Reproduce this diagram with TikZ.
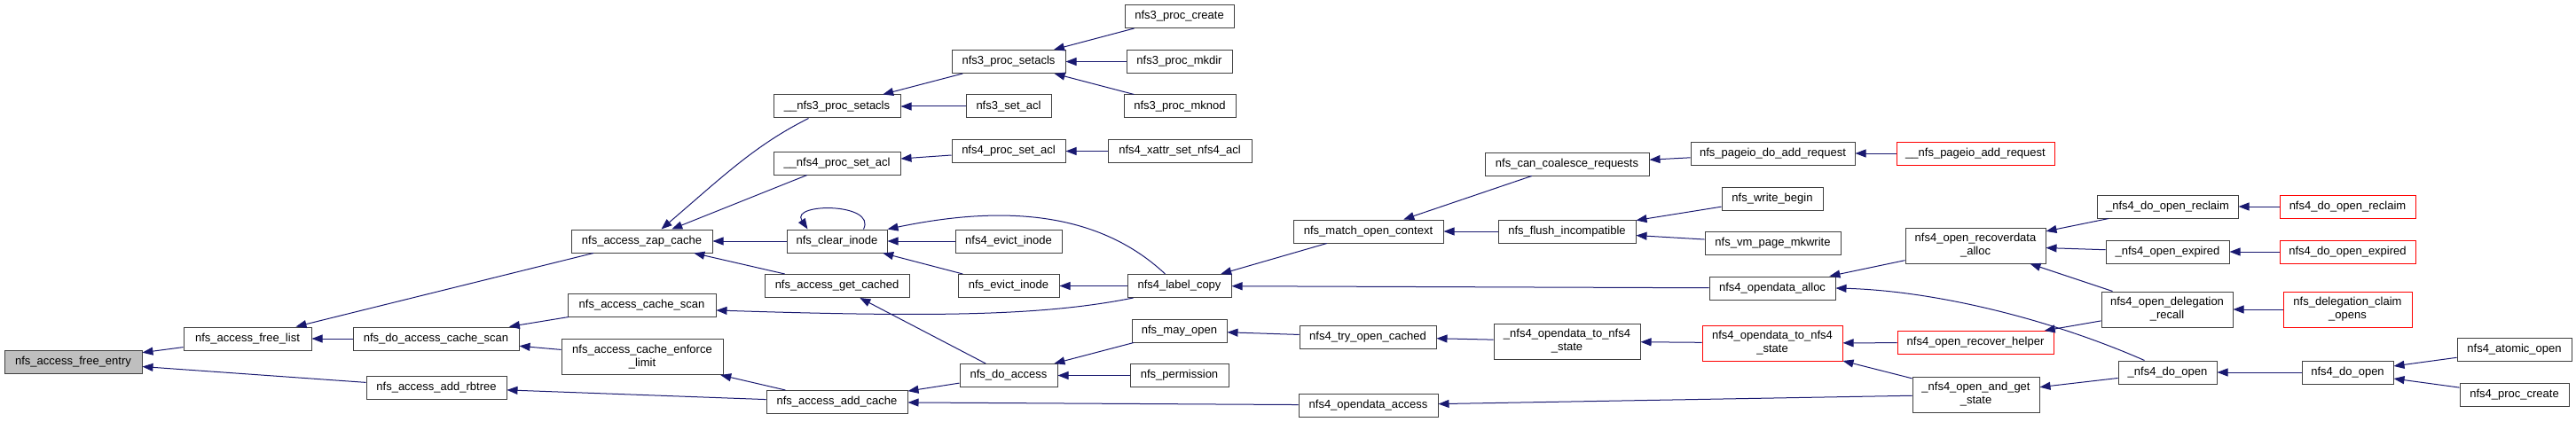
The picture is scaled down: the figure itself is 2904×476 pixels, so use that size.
\documentclass[tikz,border=0pt]{standalone}
\usepackage{fontspec}
\setmainfont{Liberation Sans}
\usetikzlibrary{arrows.meta}
\definecolor{cedge}{HTML}{191970}
\definecolor{cbox}{HTML}{404040}
\definecolor{chl}{HTML}{BFBFBF}
\definecolor{ctrunc}{HTML}{FF0000}
\begin{document}
\begin{tikzpicture}[
    x=1pt, y=1pt,
    fn/.style={draw=cbox, line width=1pt, fill=white, inner sep=0pt, align=center,
               minimum height=26pt, font=\fontsize{13}{15}\selectfont},
    fnhl/.style={fn, fill=chl},
    fntrunc/.style={fn, draw=ctrunc},
    tall/.style={minimum height=40pt},
    call/.style={-{Triangle[length=12pt,width=9pt]}, line width=1pt, draw=cedge},
  ]
  % same canvas as the reference image, one unit is one pixel
  \path[use as bounding box] (0,0) rectangle (2904,-476);
  % == columns, from the callee on the left to the callers on the right
  \node[fnhl, minimum width=155pt] (freeentry) at (82.5,-408) {nfs\_access\_free\_entry};
  \node[fn, minimum width=144pt] (freelist) at (279,-382) {nfs\_access\_free\_list};
  \node[fn, minimum width=187pt] (docachescan) at (491.5,-382) {nfs\_do\_access\_cache\_scan};
  \node[fn, minimum width=158pt] (addrbtree) at (492,-437) {nfs\_access\_add\_rbtree};
  \node[fn, minimum width=159pt] (zapcache) at (723.5,-272) {nfs\_access\_zap\_cache};
  \node[fn, minimum width=167pt] (cachescan) at (723.5,-344) {nfs\_access\_cache\_scan};
  \node[fn, tall, minimum width=182pt] (enforce) at (724,-402.5) {nfs\_access\_cache\_enforce\\\_limit};
  \node[fn, minimum width=143pt] (setaclsiii) at (943.5,-120) {\_\_nfs3\_proc\_setacls};
  \node[fn, minimum width=143pt] (setacliv) at (943.5,-184) {\_\_nfs4\_proc\_set\_acl};
  \node[fn, minimum width=113pt] (clearinode) at (943.5,-272) {nfs\_clear\_inode};
  \node[fn, minimum width=163pt] (getcached) at (943.5,-322.5) {nfs\_access\_get\_cached};
  \node[fn, minimum width=159pt] (addcache) at (943.5,-453.5) {nfs\_access\_add\_cache};
  \node[fn, minimum width=128pt] (procsetacls) at (1137,-69.5) {nfs3\_proc\_setacls};
  \node[fn, minimum width=96pt] (setacl) at (1137,-120) {nfs3\_set\_acl};
  \node[fn, minimum width=128pt] (procsetacl) at (1137,-170.5) {nfs4\_proc\_set\_acl};
  \node[fn, minimum width=120pt] (evictiv) at (1137,-272) {nfs4\_evict\_inode};
  \node[fn, minimum width=114pt] (evict) at (1137,-322.5) {nfs\_evict\_inode};
  \node[fn, minimum width=110pt] (doaccess) at (1137,-423.5) {nfs\_do\_access};
  \node[fn, minimum width=123pt] (create) at (1329.5,-18.5) {nfs3\_proc\_create};
  \node[fn, minimum width=119pt] (mkdir) at (1329.5,-69.5) {nfs3\_proc\_mkdir};
  \node[fn, minimum width=126pt] (mknod) at (1330,-120) {nfs3\_proc\_mknod};
  \node[fn, minimum width=162pt] (xattr) at (1330,-170.5) {nfs4\_xattr\_set\_nfs4\_acl};
  \node[fn, minimum width=117pt] (labelcopy) at (1329.5,-322.5) {nfs4\_label\_copy};
  \node[fn, minimum width=107pt] (mayopen) at (1329.5,-373) {nfs\_may\_open};
  \node[fn, minimum width=111pt] (permission) at (1329.5,-423.5) {nfs\_permission};
  \node[fn, minimum width=169pt] (matchctx) at (1542.5,-261) {nfs\_match\_open\_context};
  \node[fn, minimum width=154pt] (trycached) at (1542,-380) {nfs4\_try\_open\_cached};
  \node[fn, minimum width=157pt] (odaccess) at (1542.5,-457) {nfs4\_opendata\_access};
  \node[fn, minimum width=185pt] (coalesce) at (1766.5,-185) {nfs\_can\_coalesce\_requests};
  \node[fn, minimum width=155pt] (flush) at (1766.5,-261) {nfs\_flush\_incompatible};
  \node[fn, tall, minimum width=165pt] (tostatei) at (1766.5,-385) {\_nfs4\_opendata\_to\_nfs4\\\_state};
  \node[fn, minimum width=185pt] (pageiodo) at (1998.5,-173) {nfs\_pageio\_do\_add\_request};
  \node[fn, minimum width=114pt] (writebegin) at (1998,-224) {nfs\_write\_begin};
  \node[fn, minimum width=153pt] (mkwrite) at (1998.5,-274.5) {nfs\_vm\_page\_mkwrite};
  \node[fn, minimum width=142pt] (odalloc) at (1998,-325) {nfs4\_opendata\_alloc};
  \node[fntrunc, tall, minimum width=158pt] (tostate) at (1998,-387) {nfs4\_opendata\_to\_nfs4\\\_state};
  \node[fntrunc, minimum width=178pt] (pageioadd) at (2227,-173) {\_\_nfs\_pageio\_add\_request};
  \node[fn, tall, minimum width=158pt] (recalloc) at (2227,-277) {nfs4\_open\_recoverdata\\\_alloc};
  \node[fntrunc, minimum width=176pt] (rechelper) at (2227,-386.5) {nfs4\_open\_recover\_helper};
  \node[fn, tall, minimum width=143pt] (openget) at (2227.5,-445) {\_nfs4\_open\_and\_get\\\_state};
  \node[fn, minimum width=159pt] (reclaimi) at (2443.5,-233) {\_nfs4\_do\_open\_reclaim};
  \node[fn, minimum width=139pt] (expiredi) at (2443.5,-284) {\_nfs4\_open\_expired};
  \node[fn, tall, minimum width=148pt] (delegrecall) at (2443,-349) {nfs4\_open\_delegation\\\_recall};
  \node[fn, minimum width=111pt] (doopeni) at (2443.5,-420) {\_nfs4\_do\_open};
  \node[fntrunc, minimum width=153pt] (reclaim) at (2646.5,-233) {nfs4\_do\_open\_reclaim};
  \node[fntrunc, minimum width=153pt] (expired) at (2646.5,-284) {nfs4\_do\_open\_expired};
  \node[fntrunc, tall, minimum width=145pt] (claimopens) at (2646.5,-349) {nfs\_delegation\_claim\\\_opens};
  \node[fn, minimum width=103pt] (doopen) at (2646.5,-420) {nfs4\_do\_open};
  \node[fn, minimum width=129pt] (atomicopen) at (2834.5,-394.5) {nfs4\_atomic\_open};
  \node[fn, minimum width=123pt] (proccreate) at (2834.5,-445.5) {nfs4\_proc\_create};
  % == calls, drawn from caller to callee
  \draw[call] (freelist) -- (freeentry);
  \draw[call] (addrbtree) -- (freeentry);
  \draw[call] (zapcache) -- (freelist);
  \draw[call] (docachescan) -- (freelist);
  \draw[call] (cachescan) -- (docachescan);
  \draw[call] (enforce) -- (docachescan);
  \draw[call] (addcache) -- (addrbtree);
  \draw[call] ([xshift=-32]setaclsiii.south) .. controls +(-60,-30) and +(70,60) .. ([xshift=22]zapcache.north);
  \draw[call] (setacliv) -- (zapcache);
  \draw[call] (clearinode) -- (zapcache);
  \draw[call] (getcached) -- (zapcache);
  \draw[call] ([xshift=-52]labelcopy.south) .. controls +(-100,-20) and +(250,-8) .. ([yshift=-6]cachescan.east);
  \draw[call] (addcache) -- (enforce);
  \draw[call] (procsetacls) -- (setaclsiii);
  \draw[call] (setacl) -- (setaclsiii);
  \draw[call] (procsetacl) -- (setacliv);
  \draw[call] ([xshift=30]clearinode.north) .. controls +(15,30) and +(-20,30) .. ([xshift=-33]clearinode.north);
  \draw[call] (evictiv) -- (clearinode);
  \draw[call] (evict) -- (clearinode);
  \draw[call] ([xshift=-16]labelcopy.north) .. controls +(-80,75) and +(120,25) .. (clearinode.north east);
  \draw[call] (doaccess) -- (getcached);
  \draw[call] (doaccess) -- (addcache);
  \draw[call] (odaccess) -- (addcache);
  \draw[call] (create) -- (procsetacls);
  \draw[call] (mkdir) -- (procsetacls);
  \draw[call] (mknod) -- (procsetacls);
  \draw[call] (xattr) -- (procsetacl);
  \draw[call] (labelcopy) -- (evict);
  \draw[call] (matchctx) -- (labelcopy);
  \draw[call] (odalloc) -- (labelcopy);
  \draw[call] (mayopen) -- (doaccess);
  \draw[call] (permission) -- (doaccess);
  \draw[call] (trycached) -- (mayopen);
  \draw[call] (coalesce) -- (matchctx);
  \draw[call] (flush) -- (matchctx);
  \draw[call] (pageiodo) -- (coalesce);
  \draw[call] (writebegin) -- (flush);
  \draw[call] (mkwrite) -- (flush);
  \draw[call] (tostatei) -- (trycached);
  \draw[call] (tostate) -- (tostatei);
  \draw[call] (openget) -- (odaccess);
  \draw[call] (pageioadd) -- (pageiodo);
  \draw[call] (recalloc) -- (odalloc);
  \draw[call] ([xshift=-26]doopeni.north) .. controls +(-107,47) and +(111,-3) .. (odalloc.east);
  \draw[call] (rechelper) -- (tostate);
  \draw[call] (openget) -- (tostate);
  \draw[call] (reclaimi) -- (recalloc);
  \draw[call] (expiredi) -- (recalloc);
  \draw[call] (delegrecall) -- (recalloc);
  \draw[call] (delegrecall) -- (rechelper);
  \draw[call] (doopeni) -- (openget);
  \draw[call] (reclaim) -- (reclaimi);
  \draw[call] (expired) -- (expiredi);
  \draw[call] (claimopens) -- (delegrecall);
  \draw[call] (doopen) -- (doopeni);
  \draw[call] (atomicopen) -- (doopen);
  \draw[call] (proccreate) -- (doopen);
\end{tikzpicture}
\end{document}
